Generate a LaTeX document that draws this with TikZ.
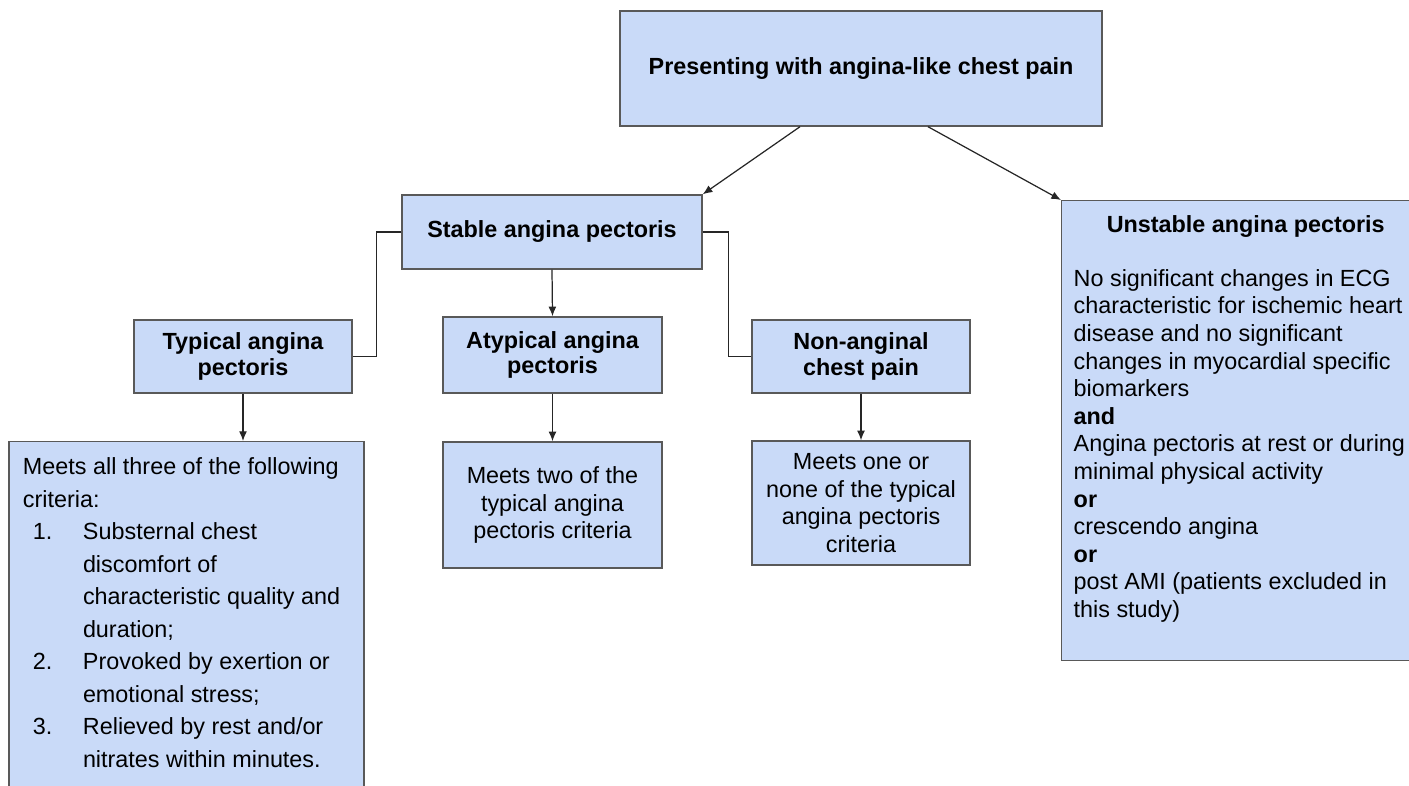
\documentclass[tikz,border=0pt]{standalone}
\usepackage{fontspec}
\setmainfont{Liberation Sans}
\usetikzlibrary{arrows.meta,positioning}
\definecolor{boxblue}{HTML}{C9DAF8}
\definecolor{boxline}{HTML}{595959}
\definecolor{arrowgrey}{HTML}{262626}
\newcommand{\bodysize}{\fontsize{13.3}{15.7}\selectfont}
\newcommand{\headsize}{\fontsize{13.3}{14.7}\selectfont\bfseries}

\begin{document}
\begin{tikzpicture}[
    box/.style={rectangle, draw=boxline, line width=0.8pt, fill=boxblue, inner sep=0pt, align=center},
    head/.style={box, font=\headsize},
    crit/.style={box, font=\bodysize},
    arr/.style={-{Latex[length=5.5pt,width=4.5pt]}, line width=0.7pt, draw=arrowgrey},
    link/.style={line width=0.7pt, draw=arrowgrey}
]
    \useasboundingbox (0,0) rectangle (28.18,-15.70);

    % top level
    \node[head, minimum width=9.64cm, minimum height=2.3cm] (present) at (17.22,-1.37)
        {Presenting with angina-like chest pain};

    % stable branch
    \node[head, minimum width=6.0cm, minimum height=1.48cm] (stable) at (11.04,-4.64)
        {Stable angina pectoris};
    \node[head, minimum width=4.36cm, minimum height=1.46cm] (typical) at (4.86,-7.13)
        {Typical angina\\pectoris};
    \node[head, minimum width=4.38cm, minimum height=1.52cm] (atypical) at (11.05,-7.10)
        {Atypical angina\\pectoris};
    \node[head, minimum width=4.36cm, minimum height=1.46cm] (nonang) at (17.22,-7.13)
        {Non-anginal\\chest pain};

    \node[box, anchor=north, inner xsep=0.28cm, font=\fontsize{13.3}{18.5}\selectfont] (typcrit) at (3.73,-8.82)
        {\parbox[t][7.78cm][t]{6.54cm}{\rule{0pt}{0.66cm}Meets all three of the following\\
         criteria:\\
         \hspace*{0.2cm}\makebox[1.0cm][l]{1.}Substernal chest\\
         \hspace*{1.2cm}discomfort of\\
         \hspace*{1.2cm}characteristic quality and\\
         \hspace*{1.2cm}duration;\\
         \hspace*{0.2cm}\makebox[1.0cm][l]{2.}Provoked by exertion or\\
         \hspace*{1.2cm}emotional stress;\\
         \hspace*{0.2cm}\makebox[1.0cm][l]{3.}Relieved by rest and/or\\
         \hspace*{1.2cm}nitrates within minutes.}};
    \node[crit, minimum width=4.38cm, minimum height=2.52cm] (atycrit) at (11.05,-10.10)
        {Meets two of the\\typical angina\\pectoris criteria};
    \node[crit, minimum width=4.36cm, minimum height=2.48cm] (noncrit) at (17.22,-10.06)
        {Meets one or\\none of the typical\\angina pectoris\\criteria};

    % unstable branch
    \node[box, anchor=north west, inner xsep=0.24cm, font=\bodysize] (unstable) at (21.22,-4.0)
        {\parbox[t][9.2cm][t]{6.88cm}{\rule{0pt}{0.64cm}\makebox[\linewidth][c]{\bfseries Unstable angina pectoris}\\[0.52cm]
         No significant changes in ECG\\
         characteristic for ischemic heart\\
         disease and no significant\\
         changes in myocardial specific\\
         biomarkers\\
         \textbf{and}\\
         Angina pectoris at rest or during\\
         minimal physical activity\\
         \textbf{or}\\
         crescendo angina\\
         \textbf{or}\\
         post AMI (patients excluded in\\
         this study)}};

    % connectors
    \draw[arr] ([xshift=-1.22cm]present.south) -- (stable.north east);
    \draw[arr] ([xshift=1.34cm]present.south) -- (unstable.north west);
    \draw[link] (stable.west) -- ++(-0.5,0) |- (typical.east);
    \draw[link] (stable.east) -- ++(0.52,0) |- (nonang.west);
    \draw[arr] (stable.south) -- (atypical.north);
    \draw[arr] (typical.south) -- (typical.south |- typcrit.north);
    \draw[arr] (atypical.south) -- (atycrit.north);
    \draw[arr] (nonang.south) -- (noncrit.north);
\end{tikzpicture}
\end{document}
